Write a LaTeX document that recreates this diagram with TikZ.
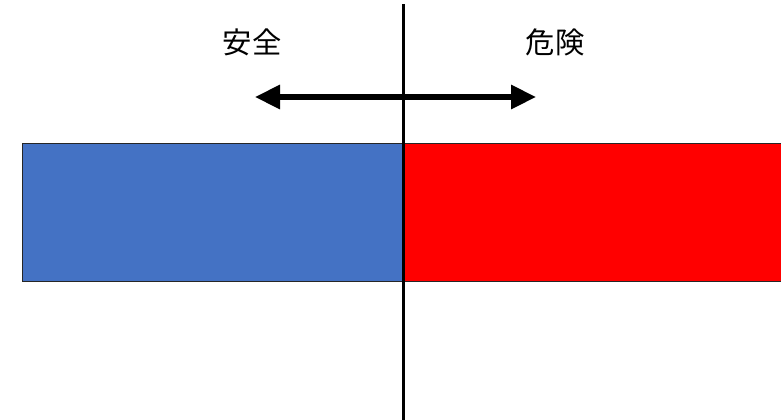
\documentclass[tikz,border=0pt]{standalone}
\usepackage{fontspec}
\newfontfamily\cjk{Noto Sans CJK JP}
\usetikzlibrary{arrows.meta}
\definecolor{safeblue}{HTML}{4472C4}
\definecolor{dangerred}{HTML}{FF0000}
\tikzset{
  bar/.style={draw=black!85, line width=0.75pt, inner sep=0pt, outer sep=0pt, anchor=north west},
  label/.style={font=\cjk\fontsize{22}{26}\selectfont, inner sep=0pt},
  divider/.style={line width=2.4pt, draw=black},
  dirarrow/.style={line width=3.9pt, {Triangle[length=18.75pt,width=17.5pt]}-{Triangle[length=18.75pt,width=17.5pt]}}
}
\begin{document}
\begin{tikzpicture}[x=0.75pt,y=-0.75pt]
\useasboundingbox (0,0) rectangle (781,419);
\node[bar, fill=safeblue, minimum width=381*0.75pt, minimum height=138*0.75pt] (safe) at (22,143) {};
\node[bar, fill=dangerred, minimum width=390*0.75pt, minimum height=138*0.75pt] (danger) at (403,143) {};
\coordinate (top) at (403.5,4);
\coordinate (bottom) at (403.5,425);
\draw[divider] (top) -- (bottom);
\coordinate (left) at (255,97);
\coordinate (right) at (536,97);
\draw[dirarrow] (left) -- (right);
\node[label] (t1) at (252,42) {安全};
\node[label] (t2) at (555,42) {危険};
\end{tikzpicture}
\end{document}
